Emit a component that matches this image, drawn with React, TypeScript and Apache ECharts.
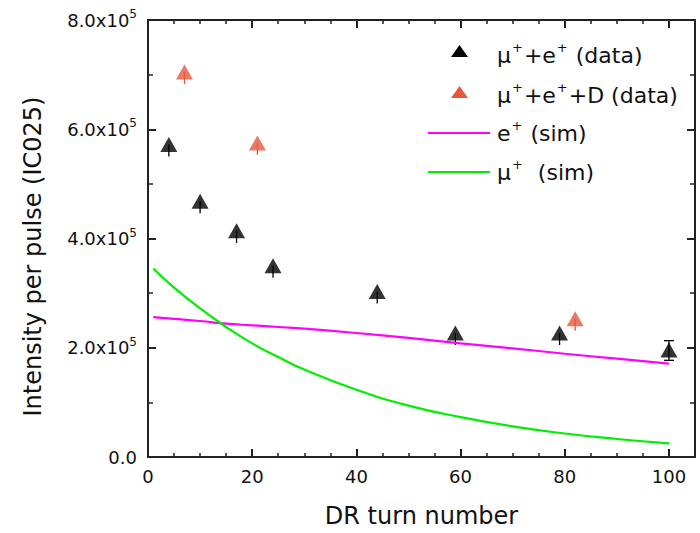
import React, { useEffect, useRef } from "react";
import * as echarts from "echarts";

// ---- data ----
const blackX = [4, 10, 17, 24, 44, 59, 79, 100];
const blackY = [572000, 468000, 414000, 350000, 303000, 227000, 227000, 196000];
const blackErrDown = [22000, 22000, 22000, 22000, 22000, 22000, 22000, 19000];
const blackErrUp = [0, 0, 0, 0, 0, 0, 0, 17000];

const redX = [7, 21, 82];
const redY = [705000, 575000, 253000];
const redErrDown = [22000, 22000, 22000];
const redErrUp = [0, 0, 0];

const simX = [1, 5, 10, 15, 20, 25, 30, 40, 50, 60, 70, 80, 90, 100];
const ePlusSim = [256000, 253000, 249000, 244000, 241000, 238000, 235000, 227000, 218000, 208000, 199000, 189000, 180000, 171000];
const muPlusSim = [345000, 310000, 272000, 238000, 208000, 183000, 160000, 123000, 94000, 73000, 56000, 43000, 33000, 25000];

const xTicksMajor = [0, 20, 40, 60, 80, 100];

const FONT = "DejaVu Sans, Liberation Sans, Arial, sans-serif";
const AXIS_COLOR = "#222";
const RED = "#E8563C";
const MAGENTA = "#FF00FF";
const GREEN = "#00EE00";

function errSeries(xs: number[], ys: number[], down: number[], up: number[], color: string) {
  return {
    type: "custom",
    xAxisIndex: 0,
    yAxisIndex: 0,
    z: 1,
    silent: true,
    dimensions: ["x", "y", "lo", "hi"],
    encode: { x: 0, y: 1 },
    data: xs.map((x, i) => [x, ys[i], down[i], up[i]]),
    renderItem: (params: any, api: any) => {
      const x = api.value(0);
      const y = api.value(1);
      const lo = api.value(2);
      const hi = api.value(3);
      const pLo = api.coord([x, y - lo]);
      const pHi = api.coord([x, y + hi]);
      const children: any[] = [
        {
          type: "line",
          shape: { x1: pLo[0], y1: pLo[1], x2: pHi[0], y2: pHi[1] },
          style: { stroke: color, lineWidth: 1.3 },
        },
      ];
      if (hi > 0) {
        children.push(
          { type: "line", shape: { x1: pLo[0] - 5, y1: pLo[1], x2: pLo[0] + 5, y2: pLo[1] }, style: { stroke: color, lineWidth: 1.3 } },
          { type: "line", shape: { x1: pHi[0] - 5, y1: pHi[1], x2: pHi[0] + 5, y2: pHi[1] }, style: { stroke: color, lineWidth: 1.3 } }
        );
      }
      return { type: "group", children };
    },
  };
}

const supRich = {
  n: { fontSize: 22, fontFamily: FONT, color: "#111", lineHeight: 28 },
  s: { fontSize: 13, fontFamily: FONT, color: "#111", verticalAlign: "top", lineHeight: 13, padding: [0, 1, 0, 1] },
};

function legendText(text: string, y: number) {
  return {
    type: "text",
    x: 497,
    y,
    style: {
      text,
      rich: supRich,
      verticalAlign: "middle",
      align: "left",
      fill: "#111",
      font: `22px ${FONT}`,
    },
  };
}

export default function App() {
  const ref = useRef<HTMLDivElement>(null);
  useEffect(() => {
    if (!ref.current) return;
    const chart = echarts.init(ref.current, undefined, { renderer: "svg" });

    const baseX = {
      type: "value",
      min: 0,
      max: 105,
      splitLine: { show: false },
    };
    const baseY = {
      type: "value",
      min: 0,
      max: 800000,
      interval: 200000,
      splitLine: { show: false },
    };

    chart.setOption({
      animation: false,
      backgroundColor: "#fff",
      grid: { left: 148, right: 5, top: 20, bottom: 72, containLabel: false },
      xAxis: [
        {
          ...baseX,
          position: "bottom",
          interval: 20,
          name: "DR turn number",
          nameLocation: "middle",
          nameGap: 47,
          nameTextStyle: { fontSize: 24, fontFamily: FONT, color: "#111" },
          axisLine: { show: true, onZero: false, lineStyle: { color: AXIS_COLOR, width: 2 } },
          axisTick: { show: true, inside: true, length: 8, lineStyle: { color: AXIS_COLOR, width: 2 }, customValues: xTicksMajor },
          axisLabel: { show: true, margin: 10, fontSize: 18, fontFamily: FONT, color: "#111", customValues: xTicksMajor },
        },
        {
          ...baseX,
          position: "bottom",
          interval: 5,
          axisLine: { show: false, onZero: false },
          axisTick: { show: true, inside: true, length: 4, lineStyle: { color: AXIS_COLOR, width: 1.5 } },
          axisLabel: { show: false },
        },
        {
          ...baseX,
          position: "top",
          interval: 20,
          axisLine: { show: true, onZero: false, lineStyle: { color: AXIS_COLOR, width: 2 } },
          axisTick: { show: true, inside: true, length: 8, lineStyle: { color: AXIS_COLOR, width: 2 }, customValues: xTicksMajor },
          axisLabel: { show: false },
        },
        {
          ...baseX,
          position: "top",
          interval: 5,
          axisLine: { show: false, onZero: false },
          axisTick: { show: true, inside: true, length: 4, lineStyle: { color: AXIS_COLOR, width: 1.5 } },
          axisLabel: { show: false },
        },
      ],
      yAxis: [
        {
          ...baseY,
          position: "left",
          name: "Intensity per pulse (IC025)",
          nameLocation: "middle",
          nameGap: 103,
          nameTextStyle: { fontSize: 24, fontFamily: FONT, color: "#111", padding: [0, 36, 0, 0] },
          axisLine: { show: true, onZero: false, lineStyle: { color: AXIS_COLOR, width: 2 } },
          axisTick: { show: true, inside: true, length: 8, lineStyle: { color: AXIS_COLOR, width: 2 } },
          minorTick: { show: true, splitNumber: 2, length: 5, lineStyle: { color: AXIS_COLOR, width: 1.5 } },
          axisLabel: {
            show: true,
            margin: 11,
            fontSize: 18,
            fontFamily: FONT,
            color: "#111",
            formatter: (v: number) => (v === 0 ? "0.0" : `{b|${(v / 100000).toFixed(1)}x10}{s|5}`),
            rich: {
              b: { fontSize: 18, fontFamily: FONT, color: "#111", lineHeight: 24 },
              s: { fontSize: 12, fontFamily: FONT, color: "#111", verticalAlign: "top", lineHeight: 12 },
            },
          },
        },
        {
          ...baseY,
          position: "right",
          axisLine: { show: true, onZero: false, lineStyle: { color: AXIS_COLOR, width: 2 } },
          axisTick: { show: true, inside: true, length: 8, lineStyle: { color: AXIS_COLOR, width: 2 } },
          minorTick: { show: true, splitNumber: 2, length: 5, lineStyle: { color: AXIS_COLOR, width: 1.5 } },
          axisLabel: { show: false },
        },
      ],
      series: [
        {
          name: "e+ (sim)",
          type: "line",
          xAxisIndex: 0,
          yAxisIndex: 0,
          smooth: true,
          showSymbol: false,
          symbol: "none",
          z: 2,
          lineStyle: { color: MAGENTA, width: 2.2 },
          data: simX.map((x, i) => [x, ePlusSim[i]]),
        },
        {
          name: "mu+ (sim)",
          type: "line",
          xAxisIndex: 0,
          yAxisIndex: 0,
          smooth: true,
          showSymbol: false,
          symbol: "none",
          z: 2,
          lineStyle: { color: GREEN, width: 2.2 },
          data: simX.map((x, i) => [x, muPlusSim[i]]),
        },
        errSeries(blackX, blackY, blackErrDown, blackErrUp, "#000"),
        errSeries(redX, redY, redErrDown, redErrUp, RED),
        {
          name: "mu+e+ (data)",
          type: "scatter",
          xAxisIndex: 0,
          yAxisIndex: 0,
          symbol: "triangle",
          symbolSize: [17, 15],
          z: 3,
          itemStyle: { color: "#000" },
          data: blackX.map((x, i) => [x, blackY[i]]),
        },
        {
          name: "mu+e+D (data)",
          type: "scatter",
          xAxisIndex: 0,
          yAxisIndex: 0,
          symbol: "triangle",
          symbolSize: [17, 15],
          z: 3,
          itemStyle: { color: RED },
          data: redX.map((x, i) => [x, redY[i]]),
        },
      ],
      graphic: [
        { type: "polygon", shape: { points: [[451, 57], [468, 57], [459.5, 45]] }, style: { fill: "#000" } },
        { type: "polygon", shape: { points: [[451, 98], [468, 98], [459.5, 86]] }, style: { fill: RED } },
        { type: "line", shape: { x1: 428, y1: 133, x2: 490, y2: 133 }, style: { stroke: MAGENTA, lineWidth: 2.2 } },
        { type: "line", shape: { x1: 428, y1: 172, x2: 490, y2: 172 }, style: { stroke: GREEN, lineWidth: 2.2 } },
        legendText("{n|μ}{s|+}{n|+e}{s|+}{n| (data)}", 55),
        legendText("{n|μ}{s|+}{n|+e}{s|+}{n|+D (data)}", 95),
        legendText("{n|e}{s|+}{n| (sim)}", 133),
        legendText("{n|μ}{s|+}{n|  (sim)}", 172),
      ],
    });
    return () => chart.dispose();
  }, []);
  return <div ref={ref} style={{ position: "fixed", left: 0, top: 0, width: 700, height: 533 }} />;
}
